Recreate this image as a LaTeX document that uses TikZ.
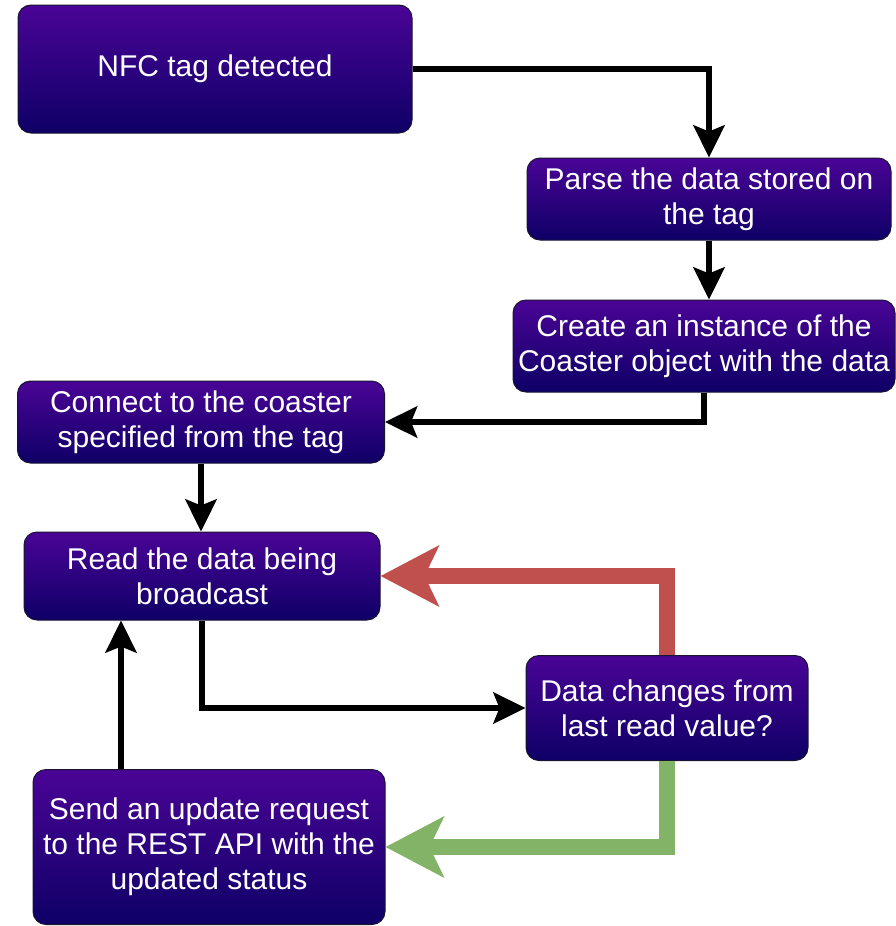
\documentclass[tikz,border=0pt]{standalone}
\usepackage{fontspec}
\setmainfont{Liberation Sans}
\usetikzlibrary{arrows.meta}
\definecolor{boxtop}{RGB}{74,4,150}
\definecolor{boxbot}{RGB}{14,0,102}
\definecolor{edgec}{RGB}{25,20,50}
\definecolor{noc}{RGB}{192,80,77}
\definecolor{yesc}{RGB}{130,179,102}
\begin{document}
\begin{tikzpicture}[x=1pt,y=-1pt,
  stepbox/.style={draw=edgec, line width=1pt, rounded corners=13pt,
    top color=boxtop, bottom color=boxbot, text=white,
    font=\fontsize{30}{35}\selectfont, align=center, inner sep=0pt},
  flow/.style={line width=6.5pt, -{Stealth[length=32pt,width=31pt,inset=6pt]}},
  bigflow/.style={line width=16pt, -{Stealth[length=58pt,width=60pt,inset=14pt]}}]
\useasboundingbox (0,0) rectangle (895,926);

% process steps
\node[stepbox, minimum width=394pt, minimum height=128pt] (nfc) at (215,69) {NFC tag detected};
\node[stepbox, minimum width=364pt, minimum height=82pt] (parse) at (709,199) {Parse the data stored on\\the tag};
\node[stepbox, minimum width=382pt, minimum height=92pt] (create) at (704,346) {Create an instance of the\\Coaster object with the data};
\node[stepbox, minimum width=367pt, minimum height=82pt] (connect) at (201,422) {Connect to the coaster\\specified from the tag};
\node[stepbox, minimum width=356pt, minimum height=88pt] (read) at (202,576) {Read the data being\\broadcast};
\node[stepbox, minimum width=282pt, minimum height=105pt] (data) at (667,708) {Data changes from\\last read value?};
\node[stepbox, minimum width=352pt, minimum height=155pt] (send) at (209,847) {Send an update request\\to the REST API with the\\updated status};

% connectors
\draw[flow] (nfc.east) -| (parse.north);
\draw[flow] (parse.south) -- (parse.south |- create.north);
\draw[flow] (create.south) |- (connect.east);
\draw[flow] (connect.south) -- (connect.south |- read.north);
\draw[flow] (read.south) |- (data.west);
\draw[flow] ([xshift=-88pt]send.north) -- ([xshift=-88pt]send.north |- read.south);

% decision outcomes
\draw[bigflow, draw=noc] (data.north) |- (read.east);
\draw[bigflow, draw=yesc] (data.south) |- (send.east);
\end{tikzpicture}
\end{document}
